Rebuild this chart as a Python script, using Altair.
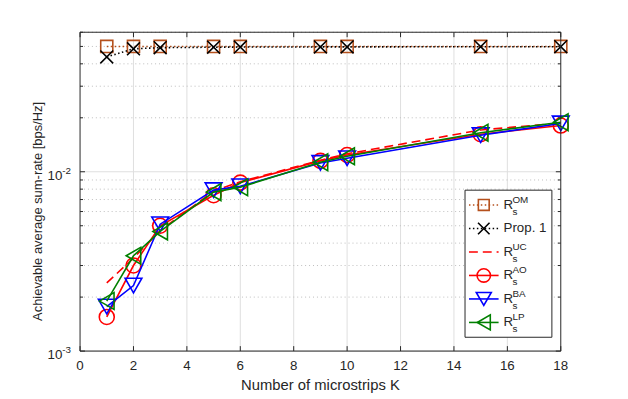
import altair as alt
import pandas as pd

# ---------------- data ----------------
K = [1, 2, 3, 5, 6, 9, 10, 15, 18]
R_OM = [0.0500, 0.0500, 0.0500, 0.0500, 0.0500, 0.0500, 0.0500, 0.0500, 0.0500]
PROP1 = [0.0437, 0.0485, 0.0492, 0.0495, 0.0496, 0.0497, 0.0497, 0.0498, 0.0498]
R_UC = [0.0024, 0.0033, 0.0047, 0.0078, 0.0088, 0.0116, 0.0126, 0.0171, 0.0187]
R_AO = [0.00155, 0.0030, 0.0050, 0.0074, 0.0087, 0.0115, 0.0124, 0.0162, 0.0181]
R_BA = [0.00177, 0.00232, 0.0051, 0.0079, 0.0083, 0.0112, 0.0119, 0.0160, 0.0186]
R_LP = [0.0019, 0.0034, 0.00465, 0.0077, 0.0082, 0.0113, 0.0122, 0.0165, 0.0189]

X_TICKS = [0, 2, 4, 6, 8, 10, 12, 14, 16, 18]
Y_MAJOR = [0.001, 0.01]
Y_EXP = ["-3", "-2"]
Y_MINOR = [0.002, 0.003, 0.004, 0.005, 0.006, 0.007, 0.008, 0.009,
           0.02, 0.03, 0.04, 0.05, 0.06]

X_TITLE = "Number of microstrips K"
Y_TITLE = "Achievable average sum-rate [bps/Hz]"

# ---------------- styling ----------------
W, H = 487, 323
FONT = "Liberation Sans"
AX = "#262626"
XMARK = "M-1,-1L1,1M-1,1L1,-1"

series = [
    # name, values, color, dash, shape, size, legend main text, legend sup
    ("OM", R_OM, "#B5501C", [1.5, 2.5], "square", 150, "R", "OM"),
    ("Prop1", PROP1, "#000000", [1.5, 2.5], XMARK, 170, "Prop. 1", None),
    ("UC", R_UC, "#FF0000", [9, 5], None, 0, "R", "UC"),
    ("AO", R_AO, "#FF0000", None, "circle", 230, "R", "AO"),
    ("BA", R_BA, "#0000FF", None, "triangle-down", 290, "R", "BA"),
    ("LP", R_LP, "#008000", None, "triangle-left", 290, "R", "LP"),
]

xs = alt.Scale(domain=[0, 18], nice=False, zero=False)
ys = alt.Scale(type="log", domain=[0.001, 0.06], nice=False)

one = pd.DataFrame({"a": [0]})
layers = []

# grid
xg = pd.DataFrame({"v": X_TICKS[1:-1]})
layers.append(alt.Chart(xg).mark_rule(color="#dedede", strokeWidth=1).encode(
    x=alt.X("v:Q", scale=xs, axis=None), y=alt.value(0), y2=alt.value(H)))
yg = pd.DataFrame({"v": Y_MAJOR})
layers.append(alt.Chart(yg).mark_rule(color="#dedede", strokeWidth=1).encode(
    y=alt.Y("v:Q", scale=ys, axis=None), x=alt.value(0), x2=alt.value(W)))
ym = pd.DataFrame({"v": Y_MINOR})
layers.append(alt.Chart(ym).mark_rule(color="#bdbdbd", strokeWidth=1, strokeDash=[1, 3]).encode(
    y=alt.Y("v:Q", scale=ys, axis=None), x=alt.value(0), x2=alt.value(W)))

# data series
for name, vals, col, dash, shape, size, _, _ in series:
    df = pd.DataFrame({"K": K, "R": vals})
    lk = dict(color=col, strokeWidth=1.6)
    if dash:
        lk["strokeDash"] = dash
    layers.append(alt.Chart(df).mark_line(**lk).encode(
        x=alt.X("K:Q", scale=xs, axis=None), y=alt.Y("R:Q", scale=ys, axis=None)))
    if shape:
        layers.append(alt.Chart(df).mark_point(shape=shape, size=size, filled=False,
                                               color=col, strokeWidth=1.6, opacity=1).encode(
            x=alt.X("K:Q", scale=xs, axis=None), y=alt.Y("R:Q", scale=ys, axis=None)))

# box
layers.append(alt.Chart(one).mark_rect(fill=None, stroke=AX, strokeWidth=1).encode(
    x=alt.value(0), x2=alt.value(W), y=alt.value(0), y2=alt.value(H)))

# ticks (inward)
xt = pd.DataFrame({"v": X_TICKS})
for y0, y1 in [(H, H - 5), (0, 5)]:
    layers.append(alt.Chart(xt).mark_rule(color=AX, strokeWidth=1).encode(
        x=alt.X("v:Q", scale=xs, axis=None), y=alt.value(y0), y2=alt.value(y1)))
for df_, ln in [(yg, 5), (ym, 3)]:
    for x0, x1 in [(0, ln), (W, W - ln)]:
        layers.append(alt.Chart(df_).mark_rule(color=AX, strokeWidth=1).encode(
            y=alt.Y("v:Q", scale=ys, axis=None), x=alt.value(x0), x2=alt.value(x1)))

# tick labels
layers.append(alt.Chart(xt).mark_text(font=FONT, fontSize=13.5, color=AX, baseline="middle").encode(
    x=alt.X("v:Q", scale=xs, axis=None), y=alt.value(H + 15), text="v:Q"))
yl = pd.DataFrame({"v": Y_MAJOR, "e": Y_EXP, "b": ["10", "10"]})
layers.append(alt.Chart(yl).mark_text(font=FONT, fontSize=13.5, color=AX, align="right",
                                      baseline="middle", dy=4).encode(
    y=alt.Y("v:Q", scale=ys, axis=None), x=alt.value(-18), text="b:N"))
layers.append(alt.Chart(yl).mark_text(font=FONT, fontSize=10, color=AX, align="left",
                                      baseline="middle", dy=-1).encode(
    y=alt.Y("v:Q", scale=ys, axis=None), x=alt.value(-18), text="e:N"))

# axis titles
layers.append(alt.Chart(one).mark_text(font=FONT, fontSize=15, color=AX, baseline="middle",
                                       text=X_TITLE).encode(
    x=alt.value(W / 2), y=alt.value(H + 34)))
layers.append(alt.Chart(one).mark_text(font=FONT, fontSize=13.1, color=AX, baseline="middle",
                                       angle=270, text=Y_TITLE).encode(
    x=alt.value(-43), y=alt.value(H / 2 + 20)))

# legend
LX0, LX1, LY0, LY1 = 390, 478, 160, 309
layers.append(alt.Chart(one).mark_rect(fill="white", stroke=AX, strokeWidth=1).encode(
    x=alt.value(LX0), x2=alt.value(LX1), y=alt.value(LY0), y2=alt.value(LY1)))
for i, (name, vals, col, dash, shape, size, main, sup) in enumerate(series):
    yy = 175 + 23.8 * i
    lk = dict(color=col, strokeWidth=1.6)
    if dash:
        lk["strokeDash"] = dash
    layers.append(alt.Chart(one).mark_rule(**lk).encode(
        x=alt.value(394), x2=alt.value(424), y=alt.value(yy)))
    if shape:
        layers.append(alt.Chart(one).mark_point(shape=shape, size=size * 0.8, filled=False,
                                                color=col, strokeWidth=1.6, opacity=1).encode(
            x=alt.value(409), y=alt.value(yy)))
    layers.append(alt.Chart(one).mark_text(font=FONT, fontSize=13.5, color=AX, align="left",
                                           baseline="middle", text=main).encode(
        x=alt.value(429), y=alt.value(yy)))
    if sup:
        layers.append(alt.Chart(one).mark_text(font=FONT, fontSize=10, color=AX, align="left",
                                               baseline="middle", text=sup).encode(
            x=alt.value(438), y=alt.value(yy - 5)))
        layers.append(alt.Chart(one).mark_text(font=FONT, fontSize=10, color=AX, align="left",
                                               baseline="middle", text="s").encode(
            x=alt.value(438), y=alt.value(yy + 7)))

chart = alt.layer(*layers).properties(
    width=W, height=H,
    autosize=alt.AutoSizeParams(type="none"),
    padding={"left": 73, "top": 22, "right": 60, "bottom": 46},
    background="white",
).configure_view(stroke=None)

chart.save("out.html", embed_options={"renderer": "svg", "actions": False})
